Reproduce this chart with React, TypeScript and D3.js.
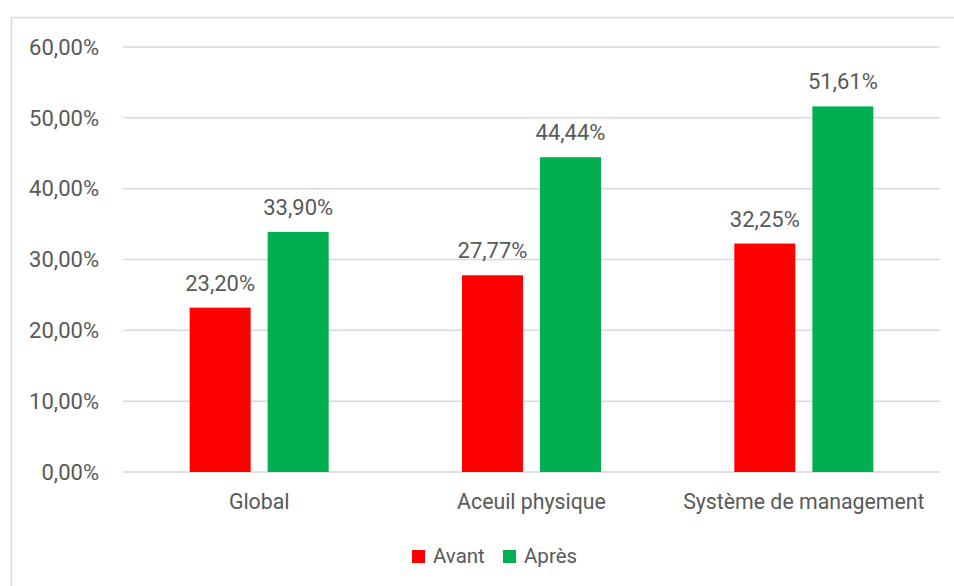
import React from "react";
import * as d3 from "d3";

const categories = ["Global", "Aceuil physique", "Système de management"];
const seriesNames = ["Avant", "Après"];
const avant = [23.2, 27.77, 32.25];
const apres = [33.9, 44.44, 51.61];
const yTicks = [0, 10, 20, 30, 40, 50, 60];
const colors = ["#FF0000", "#00B050"];

const W = 954;
const H = 586;
const FONT = "Roboto, 'Noto Sans', sans-serif";
const TEXT = "#595959";

const fmt = (v: number) => v.toFixed(2).replace(".", ",") + "%";

export default function App() {
  const left = 123, right = 940, top = 47, bottom = 472;
  const x = d3.scaleBand<string>().domain(categories).range([left, right]).padding(0);
  const y = d3.scaleLinear().domain([0, 60]).range([bottom, top]);
  const bw = x.bandwidth();
  const barW = bw * 0.224;
  const gap = bw * 0.0625;
  const series = [avant, apres];

  return (
    <svg width={W} height={H} style={{ position: "absolute", left: 0, top: 0, display: "block" }}>
      <rect x={0} y={0} width={W} height={H} fill="#fff" />
      <rect x={11.5} y={17.5} width={W} height={H} fill="#fff" stroke="#d9d9d9" strokeWidth={1.5} />
      {yTicks.map((t) => (
        <g key={t}>
          <line x1={left} x2={right} y1={y(t)} y2={y(t)} stroke="#d9d9d9" strokeWidth={1.5} />
          <text x={99} y={y(t)} dy="0.35em" textAnchor="end" fontFamily={FONT} fontSize={22} fill={TEXT}>
            {fmt(t)}
          </text>
        </g>
      ))}
      {categories.map((c, i) => {
        const cx = (x(c) as number) + bw / 2;
        return (
          <g key={c}>
            {series.map((s, j) => {
              const bx = j === 0 ? cx - gap / 2 - barW : cx + gap / 2;
              return (
                <g key={j}>
                  <rect x={bx} y={y(s[i])} width={barW} height={bottom - y(s[i])} fill={colors[j]} />
                  <text
                    x={bx + barW / 2}
                    y={y(s[i]) - 17}
                    textAnchor="middle"
                    fontFamily={FONT}
                    fontSize={22}
                    fill={TEXT}
                  >
                    {fmt(s[i])}
                  </text>
                </g>
              );
            })}
            <text x={cx} y={509} textAnchor="middle" fontFamily={FONT} fontSize={21.3} fill={TEXT}>
              {c}
            </text>
          </g>
        );
      })}
      {seriesNames.map((n, j) => {
        const lx = j === 0 ? 412 : 503;
        return (
          <g key={n}>
            <rect x={lx} y={550} width={13} height={13} fill={colors[j]} />
            <text x={lx + 21} y={563} fontFamily={FONT} fontSize={20.5} fill={TEXT}>
              {n}
            </text>
          </g>
        );
      })}
    </svg>
  );
}
